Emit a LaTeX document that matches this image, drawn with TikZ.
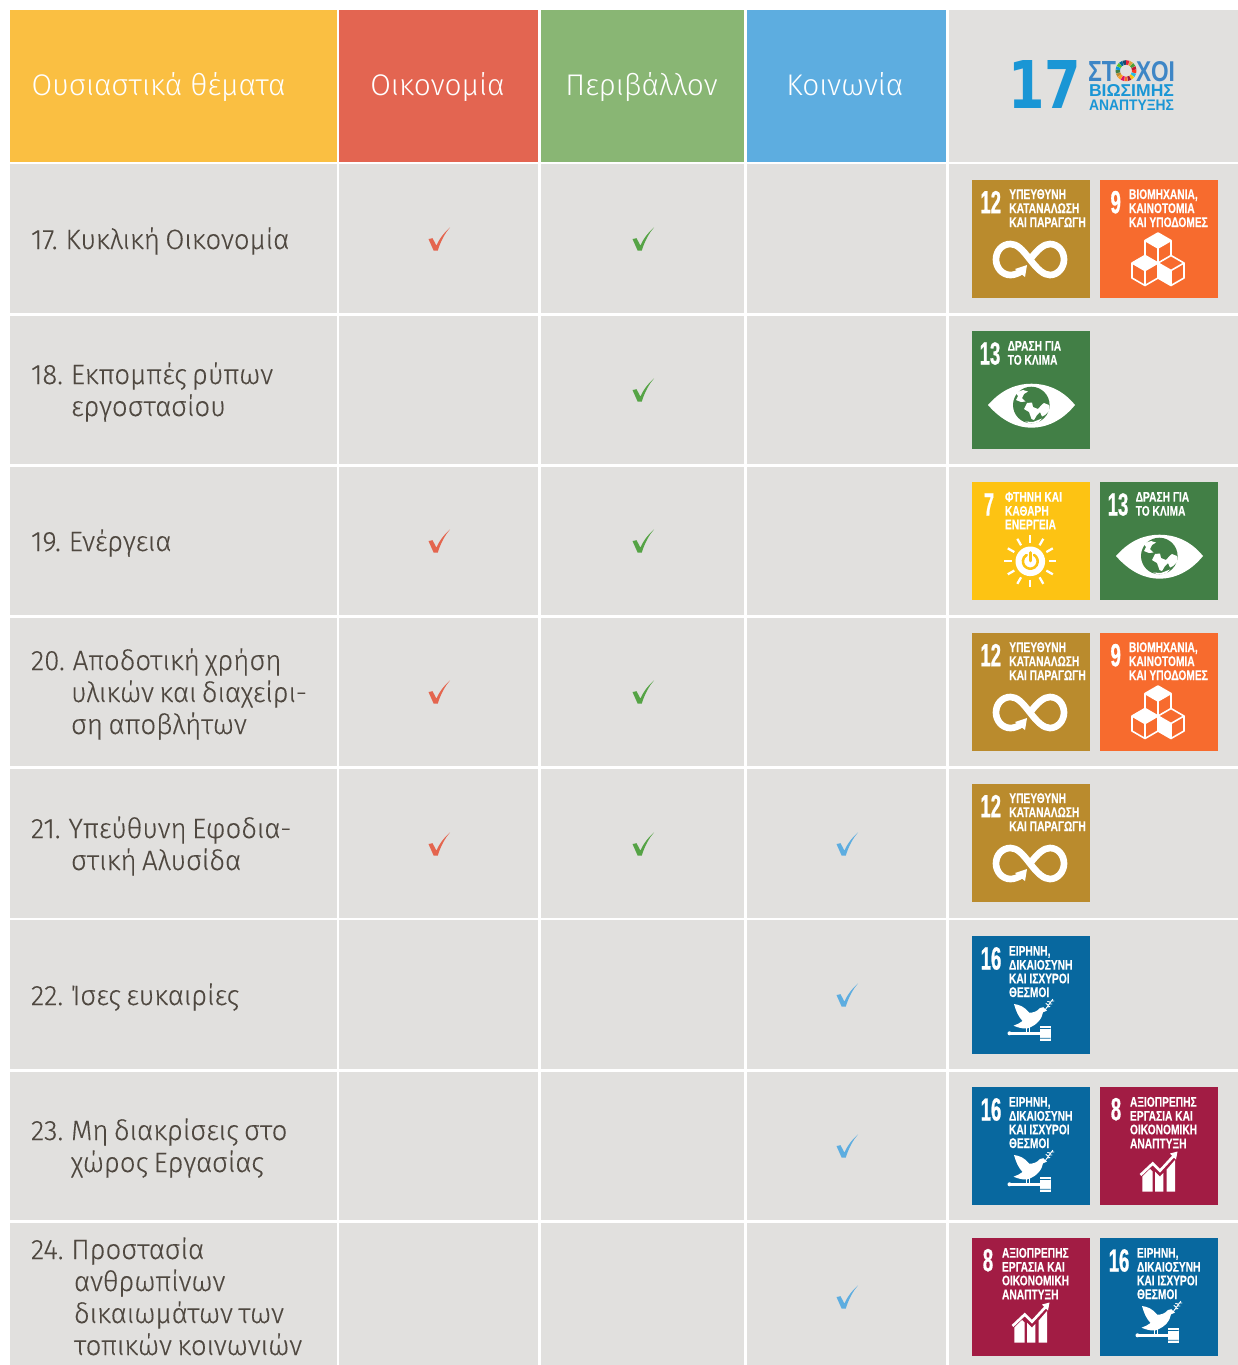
\documentclass[tikz,border=0pt]{standalone}
\usepackage{fontspec}
\usepackage{graphicx}
\setmainfont{Fira Sans}[UprightFont=* Light]
\newfontfamily\rowfont{Fira Sans}[UprightFont=* Light,FakeStretch=0.985,FakeBold=0.2,WordSpace=0.7]
\newfontfamily\tilefont{Liberation Sans}[UprightFont=* Bold,FakeStretch=0.73,FakeBold=0.25,WordSpace=1]
\newfontfamily\numfont{Liberation Sans}[UprightFont=* Bold,FakeStretch=0.58,FakeBold=0.6]
\newfontfamily\logonum{DejaVu Sans}[FakeStretch=0.72]
\newfontfamily\logotext{Liberation Sans}
\definecolor{cyellow}{HTML}{FABF42}
\definecolor{cred}{HTML}{E36551}
\definecolor{cgreen}{HTML}{89B674}
\definecolor{cblue}{HTML}{5DADE0}
\definecolor{cgrey}{HTML}{E1E0DE}
\definecolor{ctext}{HTML}{4F4840}
\definecolor{ckred}{HTML}{E4654E}
\definecolor{ckgreen}{HTML}{55A345}
\definecolor{ckblue}{HTML}{5DADE0}
\definecolor{tcons}{HTML}{BA8B2D}
\definecolor{tinno}{HTML}{F76B2E}
\definecolor{tclim}{HTML}{427F46}
\definecolor{tener}{HTML}{FDC313}
\definecolor{tpeac}{HTML}{08689F}
\definecolor{twork}{HTML}{A21C44}
\definecolor{logoA}{HTML}{1A96D5}
\definecolor{logoB}{HTML}{3E86C6}
\definecolor{g0}{HTML}{E5243B}\definecolor{g1}{HTML}{DDA63A}\definecolor{g2}{HTML}{4C9F38}
\definecolor{g3}{HTML}{C5192D}\definecolor{g4}{HTML}{FF3A21}\definecolor{g5}{HTML}{26BDE2}
\definecolor{g6}{HTML}{FCC30B}\definecolor{g7}{HTML}{A21942}\definecolor{g8}{HTML}{FD6925}
\definecolor{g9}{HTML}{DD1367}\definecolor{g10}{HTML}{FD9D24}\definecolor{g11}{HTML}{BF8B2E}
\definecolor{g12}{HTML}{3F7E44}\definecolor{g13}{HTML}{0A97D9}\definecolor{g14}{HTML}{56C02B}
\definecolor{g15}{HTML}{00689D}\definecolor{g16}{HTML}{19486A}
\newlength\pxu \setlength\pxu{0.75pt}
\newcount\nodecount
\tikzset{
  autoname/.code={\global\advance\nodecount by 1 \tikzset{name=n\the\nodecount}},
  plain/.style={inner sep=0pt,outer sep=0pt,autoname},
  headtext/.style={plain,text=white,font=\fontsize{22.4pt}{24pt}\selectfont},
  rowtext/.style={plain,anchor=base west,text=ctext,font=\rowfont\fontsize{21pt}{24pt}\selectfont},
  tiletext/.style={plain,anchor=base west,text=white,font=\tilefont\fontsize{10.5pt}{10.5pt}\selectfont},
  tilenum/.style={plain,anchor=base,text=white,font=\numfont\fontsize{24pt}{24pt}\selectfont},
  ikon/.style={draw=white,line join=round,line cap=round},
}
% tick: centre of the cell given
\newcommand\tick[3]{\begin{scope}[shift={(#1-11,#2-12.5)}]
  \fill[#3] (0.5,11.5) -- (4.5,10.7) -- (8.4,18) .. controls (11,12) and (16,5) .. (22,0)
     .. controls (17,5.5) and (12.5,14) .. (9.8,23) -- (5.6,23) -- cycle;
\end{scope}}
\newcommand\tl[3]{\node[tiletext] at (#1,#2+5) {#3};}
\newcommand\tn[3]{\node[tilenum] at (#1,#2+11.5) {#3};}
\newcommand\goalXII[2]{\begin{scope}[shift={(#1,#2)}]
  \fill[tcons] (0,0) rectangle (118,118);
  \tn{18.7}{21.7}{12}
  \tl{37.3}{14}{ΥΠΕΥΘΥΝΗ}\tl{37.3}{28}{ΚΑΤΑΝΑΛΩΣΗ}\tl{37.3}{42}{ΚΑΙ ΠΑΡΑΓΩΓΗ}
  \draw[ikon,line width=5pt,line cap=butt] (49,91.5) .. controls (46,93.5) and (42,95) .. (38.5,95)
    .. controls (30,95) and (24,87.5) .. (24,79.5) .. controls (24,71) and (30,64) .. (38.5,64)
    .. controls (45,64) and (50,69) .. (58,79.5) .. controls (66,90) and (72,95) .. (78,95)
    .. controls (86,95) and (92,87.5) .. (92,79.5) .. controls (92,71) and (86,64) .. (78,64)
    .. controls (72,64) and (66,69) .. (58,79.5);
  \fill[white] (55,85) -- (43,89) -- (53,97) -- cycle;
\end{scope}}
\newcommand\goalIX[2]{\begin{scope}[shift={(#1,#2)}]
  \fill[tinno] (0,0) rectangle (118,118);
  \tn{15.7}{21.7}{9}
  \tl{29}{14}{ΒΙΟΜΗΧΑΝΙΑ,}\tl{29}{28}{ΚΑΙΝΟΤΟΜΙΑ}\tl{29}{42}{ΚΑΙ ΥΠΟΔΟΜΕΣ}
  \fill[white] (58,53) -- (71,60.5) -- (58,68) -- (45,60.5) -- cycle;
  \fill[white] (45,75.5) -- (58,83) -- (45,90.5) -- (32,83) -- cycle;
  \fill[white] (58,83) -- (71,90.5) -- (71,105.5) -- (58,98) -- cycle;
  \draw[ikon,line width=1.2pt]
    (58,53) -- (71,60.5) -- (71,75.5) -- (58,83) -- (45,75.5) -- (45,60.5) -- cycle
    (45,60.5) -- (58,68) -- (71,60.5) (58,68) -- (58,83)
    (45,75.5) -- (58,83) -- (58,98) -- (45,105.5) -- (32,98) -- (32,83) -- cycle
    (32,83) -- (45,90.5) -- (58,83) (45,90.5) -- (45,105.5)
    (71,75.5) -- (84,83) -- (84,98) -- (71,105.5) -- (58,98)
    (58,83) -- (71,90.5) -- (84,83) (71,90.5) -- (71,105.5);
\end{scope}}
\newcommand\goalXIII[2]{\begin{scope}[shift={(#1,#2)}]
  \fill[tclim] (0,0) rectangle (118,118);
  \tn{18}{22}{13}
  \tl{35.7}{14.7}{ΔΡΑΣΗ ΓΙΑ}\tl{35.7}{28.7}{ΤΟ ΚΛΙΜΑ}
  \fill[white] (16,74) .. controls (30,58) and (45,52.7) .. (59.5,52.7) .. controls (74,52.7) and (90,58) .. (103,74)
    .. controls (90,90) and (74,96.7) .. (59.5,96.7) .. controls (45,96.7) and (30,90) .. (16,74) -- cycle;
  \fill[tclim] (59.3,74) circle (18.3);
  \fill[white] (43.5,61.5) -- (51,59) -- (56,60.5) -- (52,63) -- (50,67) -- (53.5,70.5) -- (49,71) -- (44,69) -- (46,65) -- cycle;
  \fill[white] (55,72) -- (60,71.5) -- (61,76) -- (66,78) -- (70,73.5) -- (72,72) -- (77,74) -- (77,80) -- (73,84) -- (70,85.5) -- (68,81) -- (65,84) -- (62,89) -- (59.5,88) -- (57,81) -- (52,78) -- cycle;
  \fill[white] (53,90.5) -- (61,91) -- (70,87.5) -- (66,91.5) -- (58,92.5) -- cycle;
\end{scope}}
\newcommand\goalVII[2]{\begin{scope}[shift={(#1,#2)}]
  \fill[tener] (0,0) rectangle (118,118);
  \tn{17}{22}{7}
  \tl{33}{14.7}{ΦΤΗΝΗ ΚΑΙ}\tl{33}{28.7}{ΚΑΘΑΡΗ}\tl{33}{42.3}{ΕΝΕΡΓΕΙΑ}
  \foreach \a in {0,30,...,330} {\draw[ikon,line width=1.7pt,line cap=butt] ([shift={(58.3,79.3)}]\a:18.5) -- ([shift={(58.3,79.3)}]\a:26);}
  \fill[white] (58.3,79.3) circle (14.8);
  \draw[tener,line width=1.9pt,line cap=round] ([shift={(58.3,79.3)}]-60:7.4) arc (-60:240:7.4);
  \draw[tener,line width=1.9pt,line cap=round] (58.3,70.5) -- (58.3,79);
\end{scope}}
\newcommand\goalXVI[2]{\begin{scope}[shift={(#1,#2)}]
  \fill[tpeac] (0,0) rectangle (118,118);
  \tn{19}{22}{16}
  \tl{37}{14.7}{ΕΙΡΗΝΗ,}\tl{37}{28.7}{ΔΙΚΑΙΟΣΥΝΗ}\tl{37}{42.3}{ΚΑΙ ΙΣΧΥΡΟΙ}\tl{37}{56}{ΘΕΣΜΟΙ}
  \fill[white] (42,68) .. controls (47,68.5) and (53,71) .. (57,76.5) .. controls (61,77) and (65,75.5) .. (68,72)
     -- (71.3,71.2) -- (75,74.6) -- (71,76.3)
     .. controls (70,82) and (66,89) .. (55,92.5) .. controls (50,92.7) and (46,91.5) .. (41.5,89.7)
     .. controls (45,88.5) and (48,87) .. (50.5,85) .. controls (46,80) and (44,75) .. (42,68) -- cycle;
  \draw[ikon,line width=0.9pt,line cap=butt] (54.5,91) -- (54.5,97) (57.5,91) -- (57.5,97);
  \fill[white] (36.3,95.8) rectangle (68,98.8);
  \fill[white] (37.5,97.3) circle (2);
  \fill[white] (68,90) rectangle (78.7,104.7);
  \fill[tpeac] (68,92.2) rectangle (78.7,92.9) (68,101.8) rectangle (78.7,102.5);
  \draw[ikon,line width=0.7pt] (73,74) -- (80.7,63.3) (75,71) -- (78,70.5) (77,68) -- (80,68) (78,66) -- (75.5,65.5) (76,69) -- (74,67.5) (79,65) -- (82,65);
\end{scope}}
\newcommand\goalVIII[2]{\begin{scope}[shift={(#1,#2)}]
  \fill[twork] (0,0) rectangle (118,118);
  \tn{16}{21.7}{8}
  \tl{30}{14.7}{ΑΞΙΟΠΡΕΠΗΣ}\tl{30}{28.7}{ΕΡΓΑΣΙΑ ΚΑΙ}\tl{30}{42.3}{ΟΙΚΟΝΟΜΙΚΗ}\tl{30}{56.3}{ΑΝΑΠΤΥΞΗ}
  \fill[white] (42.3,104.7) -- (42.3,89.5) -- (50,82) -- (52.7,84.5) -- (52.7,104.7) -- cycle;
  \fill[white] (55,104.7) -- (55,84.5) -- (60,89.5) -- (63.3,86) -- (63.3,104.7) -- cycle;
  \fill[white] (66.7,104.7) -- (66.7,82.5) -- (75,73) -- (75,104.7) -- cycle;
  \draw[ikon,line width=2pt,line cap=butt,line join=miter] (40.5,88) -- (52.7,76.5) -- (60,83.7) -- (74,68.5);
  \fill[white] (77.5,64.5) -- (70,66.5) -- (76,72.5) -- cycle;
\end{scope}}
\begin{document}
\begin{tikzpicture}[x=0.75pt,y=-0.75pt]
\useasboundingbox (0,0) rectangle (1238,1365);
\fill[white] (0,0) rectangle (1238,1365);
% header
\fill[cyellow] (10,10) rectangle (336.7,161.7);
\fill[cred] (339,10) rectangle (538,161.7);
\fill[cgreen] (541,10) rectangle (744,161.7);
\fill[cblue] (747,10) rectangle (946,161.7);
\fill[cgrey] (949,10) rectangle (1238,161.7);
% body
\foreach \t/\b in {164.3/313,315.5/464,466.7/615,617.5/766,768.5/917.5,920/1069,1071.7/1220,1222.7/1365}{
  \foreach \l/\r in {10/336.7,339/538,541/744,747/946,949/1238}{
    \fill[cgrey] (\l,\t) rectangle (\r,\b);
  }
}
% header text
\node[headtext,anchor=base west] at (31.5,95) {Ουσιαστικά θέματα};
\node[headtext,anchor=base] at (437.5,95) {Οικονομία};
\node[headtext,anchor=base] at (641.5,95) {Περιβάλλον};
\node[headtext,anchor=base] at (845,95) {Κοινωνία};
% logo
\node[plain,anchor=base west,text=logoA] at (1008,108) {\resizebox{73\pxu}{48\pxu}{\logonum\bfseries 17}};
\node[plain,anchor=base west,text=logoB] at (1088,81) {\resizebox{28\pxu}{20\pxu}{\logotext\bfseries ΣΤ}};
\node[plain,anchor=base west,text=logoB] at (1136,81) {\resizebox{39\pxu}{20\pxu}{\logotext\bfseries ΧΟΙ}};
\foreach \i in {0,...,16}{
  \pgfmathsetmacro\aa{-90+\i*360/17+1}
  \pgfmathsetmacro\ab{-90+(\i+1)*360/17-1}
  \fill[g\i] ([shift={(1126,70.7)}]\aa:10.5) arc (\aa:\ab:10.5) -- ([shift={(1126,70.7)}]\ab:6) arc (\ab:\aa:6) -- cycle;
}
\node[plain,anchor=base west,text=logoA] at (1089,96.5) {\resizebox{85\pxu}{12\pxu}{\logotext\bfseries ΒΙΩΣΙΜΗΣ}};
\node[plain,anchor=base west,text=logoA] at (1089,110) {\resizebox{85\pxu}{10.5\pxu}{\logotext\bfseries ΑΝΑΠΤΥΞΗΣ}};
% row labels
\node[rowtext] at (31,249) {17. Κυκλική Οικονομία};
\node[rowtext] at (31,384) {18. Εκπομπές ρύπων};
\node[rowtext] at (71,416) {εργοστασίου};
\node[rowtext] at (31,551) {19. Ενέργεια};
\node[rowtext] at (31,670) {20. Αποδοτική χρήση};
\node[rowtext] at (71,702) {υλικών και διαχείρι-};
\node[rowtext] at (71,734) {ση αποβλήτων};
\node[rowtext] at (31,838) {21. Υπεύθυνη Εφοδια-};
\node[rowtext] at (71,870) {στική Αλυσίδα};
\node[rowtext] at (31,1005) {22. Ίσες ευκαιρίες};
\node[rowtext] at (31,1140) {23. Μη διακρίσεις στο};
\node[rowtext] at (71,1172) {χώρος Εργασίας};
\node[rowtext] at (31,1259) {24. Προστασία};
\node[rowtext] at (74,1291) {ανθρωπίνων};
\node[rowtext] at (74,1323) {δικαιωμάτων των};
\node[rowtext] at (74,1355) {τοπικών κοινωνιών};
% ticks
\foreach \y in {240,542,693,845} {\tick{439}{\y}{ckred}}
\foreach \y in {240,391,542,693,845} {\tick{643}{\y}{ckgreen}}
\foreach \y in {845,996,1147,1298} {\tick{847}{\y}{ckblue}}
% tiles
\goalXII{972}{180}\goalIX{1100}{180}
\goalXIII{972}{331}
\goalVII{972}{482}\goalXIII{1100}{482}
\goalXII{972}{633}\goalIX{1100}{633}
\goalXII{972}{784}
\goalXVI{972}{936}
\goalXVI{972}{1087}\goalVIII{1100}{1087}
\goalVIII{972}{1238}\goalXVI{1100}{1238}
\end{tikzpicture}
\end{document}
